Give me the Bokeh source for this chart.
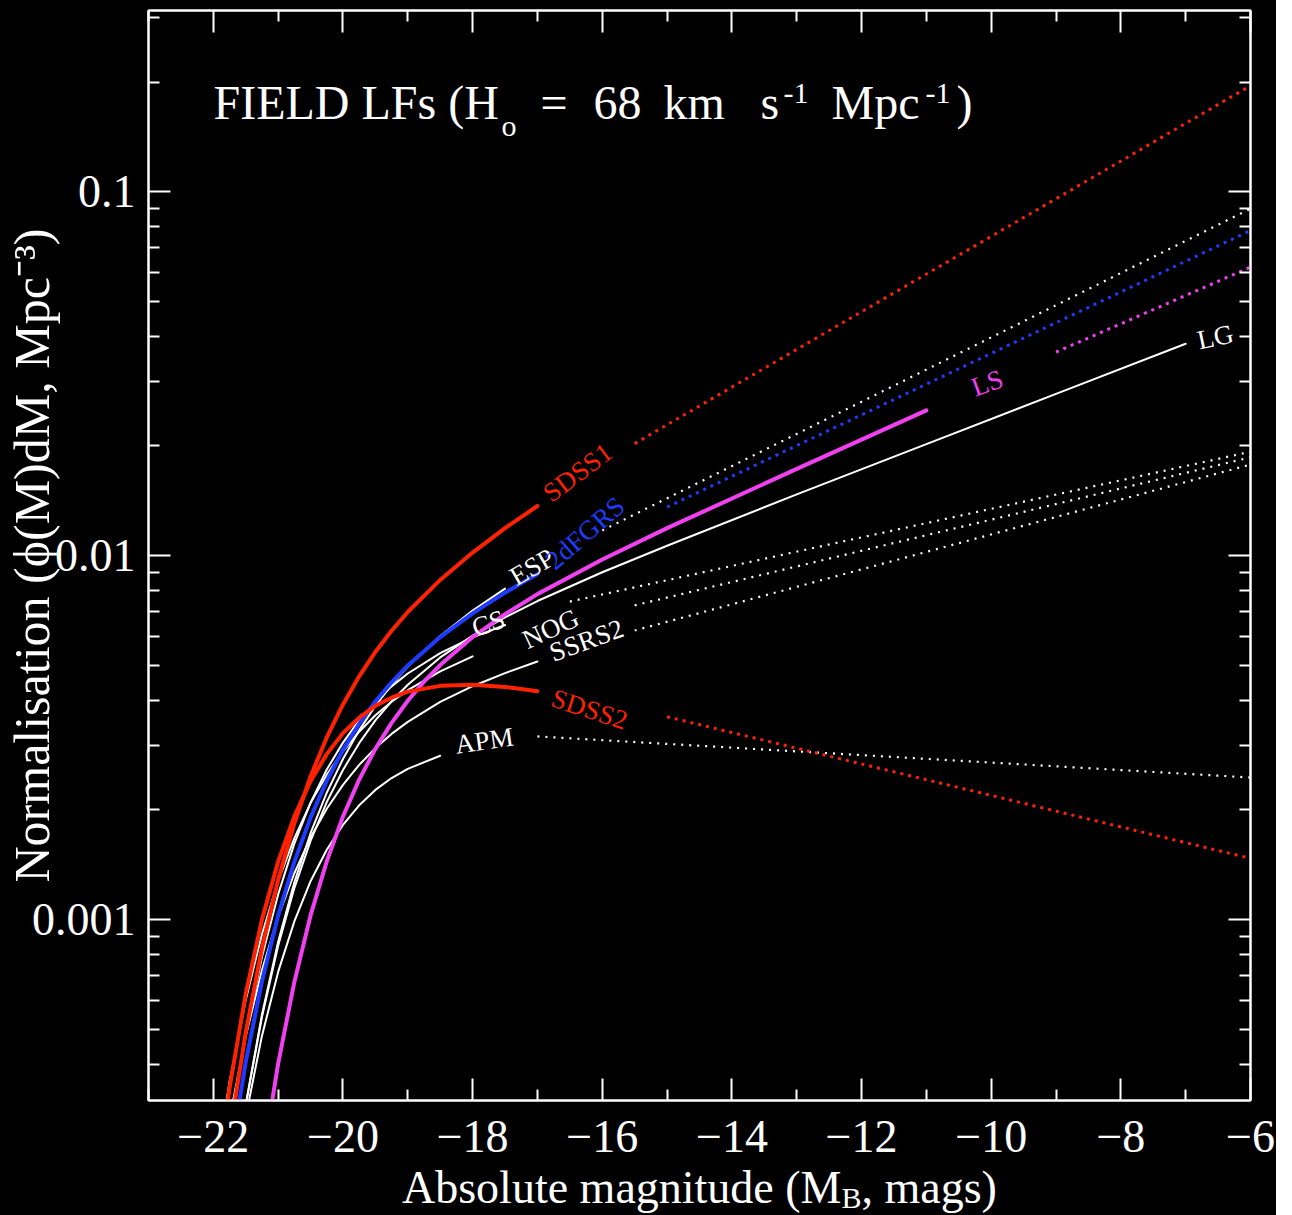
import math
from bokeh.plotting import figure
from bokeh.layouts import column
from bokeh.models import FixedTicker, LinearAxis, LogAxis, Label, ColumnDataSource, Range1d, Div
from bokeh.embed import file_html
from bokeh.resources import INLINE
from bokeh.core.properties import value

# ---------------- data ----------------
x_ticks = [-22, -20, -18, -16, -14, -12, -10, -8, -6]
x_tick_labels = ["\u221222", "\u221220", "\u221218", "\u221216", "\u221214", "\u221212", "\u221210", "\u22128", "\u22126"]
x_minor = [-23, -21, -19, -17, -15, -13, -11, -9, -7]
y_ticks = [0.001, 0.01, 0.1]
y_tick_labels = ["0.001", "0.01", "0.1"]
y_minor = [4e-4, 5e-4, 6e-4, 7e-4, 8e-4, 9e-4,
           2e-3, 3e-3, 4e-3, 5e-3, 6e-3, 7e-3, 8e-3, 9e-3,
           2e-2, 3e-2, 4e-2, 5e-2, 6e-2, 7e-2, 8e-2, 9e-2, 0.2, 0.3]

M_fine = [-22.0, -21.75, -21.5, -21.25, -21.0, -20.75, -20.5, -20.25, -20.0, -19.75, -19.5, -19.25,
          -19.0, -18.5, -18.0, -17.5, -17.0]

sdss1_M = M_fine
sdss1_phi = [1.140e-4, 2.553e-4, 4.898e-4, 8.337e-4, 1.285e-3, 1.838e-3, 2.472e-3, 3.164e-3, 3.899e-3,
             4.657e-3, 5.433e-3, 6.211e-3, 6.998e-3, 8.570e-3, 1.019e-2, 1.189e-2, 1.368e-2]
sdss1_ext_M = [-15.5, -6.0]
sdss1_ext_phi = [2.03e-2, 1.954e-1]

sdss2_M = M_fine
sdss2_phi = [1.614e-4, 3.443e-4, 6.252e-4, 9.993e-4, 1.442e-3, 1.921e-3, 2.399e-3, 2.847e-3, 3.251e-3,
             3.584e-3, 3.864e-3, 4.069e-3, 4.227e-3, 4.385e-3, 4.416e-3, 4.355e-3, 4.236e-3]
sdss2_ext_M = [-15.0, -6.0]
sdss2_ext_phi = [3.606e-3, 1.472e-3]

twodf_M = M_fine
twodf_phi = [9.863e-5, 2.158e-4, 4.055e-4, 6.761e-4, 1.026e-3, 1.440e-3, 1.905e-3, 2.406e-3, 2.924e-3,
             3.447e-3, 3.972e-3, 4.484e-3, 4.989e-3, 5.970e-3, 6.934e-3, 7.907e-3, 8.892e-3]
twodf_ext_M = [-15.0, -6.0]
twodf_ext_phi = [1.359e-2, 7.816e-2]

ls_M = [-21.5, -21.25, -21.0, -20.75, -20.5, -20.25, -20.0, -19.75, -19.5, -19.25, -19.0, -18.75, -18.5,
        -18.0, -17.5, -17.0, -16.0, -15.0, -13.0, -11.0]
ls_phi = [9.594e-5, 2.118e-4, 4.018e-4, 6.736e-4, 1.026e-3, 1.445e-3, 1.919e-3, 2.422e-3, 2.944e-3, 3.469e-3,
          3.990e-3, 4.503e-3, 5.000e-3, 5.970e-3, 6.902e-3, 7.834e-3, 9.750e-3, 1.189e-2, 1.730e-2, 2.506e-2]
ls_ext_M = [-9.0, -6.0]
ls_ext_phi = [3.622e-2, 6.2e-2]

esp_M = M_fine[:-1]
esp_phi = [6.457e-5, 1.539e-4, 3.105e-4, 5.474e-4, 8.690e-4, 1.266e-3, 1.726e-3, 2.230e-3, 2.761e-3,
           3.309e-3, 3.864e-3, 4.410e-3, 4.955e-3, 6.012e-3, 7.063e-3, 8.110e-3]
esp_ext_M = [-16.0, -6.0]
esp_ext_phi = [1.172e-2, 8.974e-2]

nog_M = M_fine[:-1]
nog_phi = [1.205e-4, 2.602e-4, 4.819e-4, 7.889e-4, 1.172e-3, 1.616e-3, 2.094e-3, 2.582e-3, 3.062e-3,
           3.529e-3, 3.963e-3, 4.370e-3, 4.742e-3, 5.395e-3, 5.957e-3, 6.442e-3]
nog_ext_M = [-16.5, -6.0]
nog_ext_phi = [7.472e-3, 1.928e-2]

cs_M = M_fine[:-2]
cs_phi = [1.875e-4, 3.578e-4, 6.012e-4, 9.109e-4, 1.276e-3, 1.673e-3, 2.089e-3, 2.500e-3, 2.897e-3,
          3.281e-3, 3.639e-3, 3.966e-3, 4.266e-3, 4.808e-3, 5.284e-3]
cs_ext_M = [-15.5, -6.0]
cs_ext_phi = [7.295e-3, 1.862e-2]

ssrs2_M = M_fine
ssrs2_phi = [1.479e-4, 2.832e-4, 4.775e-4, 7.255e-4, 1.019e-3, 1.340e-3, 1.679e-3, 2.015e-3, 2.344e-3,
             2.660e-3, 2.958e-3, 3.235e-3, 3.491e-3, 3.963e-3, 4.375e-3, 4.753e-3, 5.117e-3]
ssrs2_ext_M = [-15.5, -6.0]
ssrs2_ext_phi = [6.223e-3, 1.778e-2]

apm_M = M_fine[:-3]
apm_phi = [6.683e-5, 1.509e-4, 2.871e-4, 4.788e-4, 7.178e-4, 9.881e-4, 1.274e-3, 1.554e-3, 1.820e-3,
           2.059e-3, 2.270e-3, 2.447e-3, 2.594e-3, 2.818e-3]
apm_ext_M = [-17.0, -6.0]
apm_ext_phi = [3.184e-3, 2.455e-3]

lg_M = [-22.0, -21.75, -21.5, -21.25, -21.0, -20.75, -20.5, -20.25, -20.0, -19.75, -19.5, -19.25, -19.0,
        -18.5, -18.0, -17.5, -17.0, -16.0, -15.0, -13.0, -11.0, -9.0, -7.0]
lg_phi = [6.577e-5, 1.552e-4, 3.090e-4, 5.397e-4, 8.472e-4, 1.220e-3, 1.644e-3, 2.102e-3, 2.576e-3, 3.051e-3,
          3.524e-3, 3.976e-3, 4.416e-3, 5.248e-3, 6.026e-3, 6.761e-3, 7.499e-3, 8.995e-3, 1.064e-2, 1.472e-2,
          2.023e-2, 2.780e-2, 3.819e-2]

# ---------------- styles ----------------
RED = "#ff2200"
BLUE = "#1e3cff"
MAG = "#f040f0"
WHITE = "#ffffff"
FONT = "Liberation Serif"

# (name, M, phi, ext_M, ext_phi, colour, solid width, dotted width, dash, label offset x, y, label angle)
series = [
    ("ESP", esp_M, esp_phi, esp_ext_M, esp_ext_phi, WHITE, 2, 2.2, "2 6", 7, -10, 30),
    ("NOG", nog_M, nog_phi, nog_ext_M, nog_ext_phi, WHITE, 2, 2.2, "2 6", 19, 16, 25),
    ("CS", cs_M, cs_phi, cs_ext_M, cs_ext_phi, WHITE, 2, 2.2, "2 6", 0, -28, 18),
    ("SSRS2", ssrs2_M, ssrs2_phi, ssrs2_ext_M, ssrs2_ext_phi, WHITE, 2, 2.2, "2 6", 13, -8, 20),
    ("APM", apm_M, apm_phi, apm_ext_M, apm_ext_phi, WHITE, 2, 2.2, "2 6", 15, -11, 8),
    ("LG", lg_M, lg_phi, None, None, WHITE, 2, 2.2, "2 6", 12, -3, 12),
    ("LS", ls_M, ls_phi, ls_ext_M, ls_ext_phi, MAG, 4, 3, "3 5", 46, -22, 20),
    ("2dFGRS", twodf_M, twodf_phi, twodf_ext_M, twodf_ext_phi, BLUE, 4, 3, "3 5", 12, -10, 41),
    ("SDSS2", sdss2_M, sdss2_phi, sdss2_ext_M, sdss2_ext_phi, RED, 4, 3, "3 5", 15, 6, -18),
    ("SDSS1", sdss1_M, sdss1_phi, sdss1_ext_M, sdss1_ext_phi, RED, 4, 3, "3 5", 9, -10, 37),
]

FIG_W = 1276
FIG_H = 1172
p = figure(width=FIG_W, height=FIG_H, x_range=Range1d(-23, -6), y_range=Range1d(3.182e-4, 0.3144),
           y_axis_type="log", output_backend="svg", toolbar_location=None,
           min_border_left=148, min_border_right=26, min_border_top=10, min_border_bottom=72,
           background_fill_color="black", border_fill_color="black",
           outline_line_color="white", outline_line_width=2, margin=0)
p.xgrid.visible = False
p.ygrid.visible = False


def style_axis(ax, labels=True):
    ax.axis_line_color = "white"
    ax.axis_line_width = 2
    ax.major_tick_line_color = "white"
    ax.major_tick_line_width = 2
    ax.minor_tick_line_color = "white"
    ax.minor_tick_line_width = 2
    ax.major_tick_in = 22
    ax.major_tick_out = 0
    ax.minor_tick_in = 11
    ax.minor_tick_out = 0
    ax.major_label_text_font = FONT
    if labels:
        ax.major_label_text_color = "white"
        ax.major_label_text_font_size = "46px"
    else:
        ax.major_label_text_color = None
        ax.major_label_text_font_size = "1px"
        ax.major_label_standoff = 0


xa = p.xaxis[0]
xa.ticker = FixedTicker(ticks=x_ticks, minor_ticks=x_minor)
xa.major_label_overrides = dict(zip(x_ticks, x_tick_labels))
style_axis(xa)
xa.major_label_standoff = 20

ya = p.yaxis[0]
ya.ticker = FixedTicker(ticks=y_ticks, minor_ticks=y_minor)
ya.major_label_overrides = dict(zip(y_ticks, y_tick_labels))
style_axis(ya)
ya.major_label_standoff = 13
ya.axis_label = "Normalisation (\u03d5(M)dM, Mpc\u207b\u00b3)"
ya.axis_label_text_font = FONT
ya.axis_label_text_font_size = "50px"
ya.axis_label_text_font_style = "normal"
ya.axis_label_text_color = "white"
ya.axis_label_standoff = -31

top = LinearAxis(ticker=FixedTicker(ticks=x_ticks, minor_ticks=x_minor))
style_axis(top, labels=False)
p.add_layout(top, "above")
right = LogAxis(ticker=FixedTicker(ticks=y_ticks, minor_ticks=y_minor))
style_axis(right, labels=False)
p.add_layout(right, "right")

lab = dict(x=[], y=[], text=[], color=[], xo=[], yo=[], ang=[])
for name, M, phi, eM, ephi, col, w, dw, dash, xo, yo, ang in series:
    p.line(M, phi, line_color=col, line_width=w, line_join="round", line_cap="round")
    if eM is not None:
        p.line(eM, ephi, line_color=col, line_width=dw, line_dash=dash)
    lab["x"].append(M[-1])
    lab["y"].append(phi[-1])
    lab["text"].append(name)
    lab["color"].append(col)
    lab["xo"].append(xo)
    lab["yo"].append(yo)
    lab["ang"].append(ang)

p.text(x="x", y="y", text="text", source=ColumnDataSource(lab), text_color="color",
       x_offset="xo", y_offset="yo", angle="ang", angle_units="deg",
       text_font=value(FONT), text_font_size="27px", text_baseline="alphabetic", text_align="left")


# ---------------- title ----------------
def lbl(x, y, text, size):
    p.add_layout(Label(x=x, y=y, text=text, text_color="white", text_font=FONT, text_font_size=size,
                       text_baseline="alphabetic", text_align="left"))


T_MAIN = 0.1755
T_SUB = 0.1518
T_SUP = 0.1858
lbl(-21.997, T_MAIN, "FIELD LFs (H", "48px")
lbl(-17.554, T_SUB, "o", "30px")
lbl(-16.952, T_MAIN, "=", "48px")
lbl(-16.135, T_MAIN, "68", "48px")
lbl(-15.055, T_MAIN, "km", "48px")
lbl(-13.558, T_MAIN, "s", "48px")
lbl(-13.204, T_SUP, "-1", "30px")
lbl(-12.463, T_MAIN, "Mpc", "48px")
lbl(-11.013, T_SUP, "-1", "30px")
lbl(-10.535, T_MAIN, ")", "48px")

# ---------------- x axis label (below the figure) ----------------
xlabel = Div(
    text=('<div style="position:absolute;left:402px;top:0px;white-space:nowrap;'
          'font-family:\'Liberation Serif\';font-size:46px;line-height:31px;color:#ffffff;">'
          'Absolute magnitude (M<sub style="font-size:30px;vertical-align:-5px;line-height:0;">B</sub>, mags)</div>'),
    width=FIG_W, height=1215 - FIG_H, margin=0,
    styles={"background-color": "black", "position": "relative", "overflow": "visible"})

layout = column(p, xlabel, spacing=0, margin=0, width=FIG_W,
                styles={"background-color": "black"})
open("out.html", "w").write(file_html(layout, INLINE))
